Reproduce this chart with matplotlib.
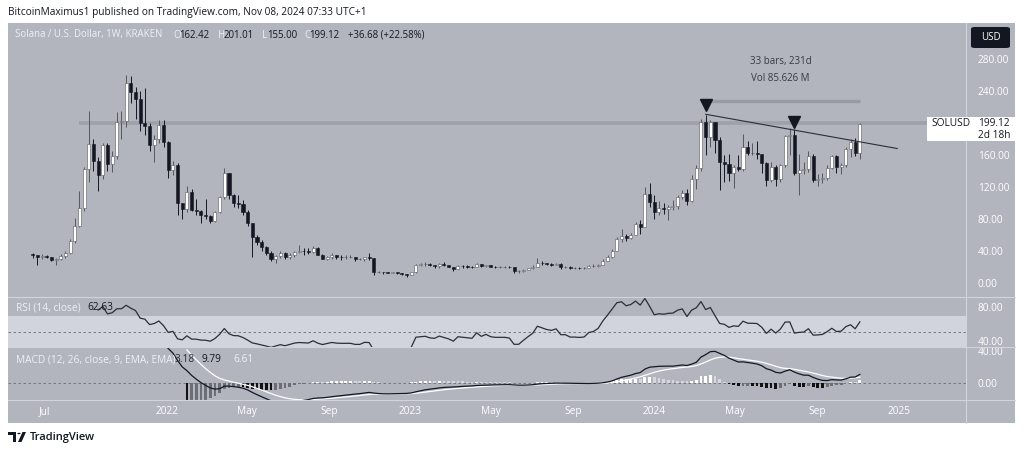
import matplotlib
matplotlib.use("Agg")
import matplotlib.pyplot as plt
import matplotlib.dates as mdates
from matplotlib.patches import Rectangle, FancyBboxPatch, Polygon, Circle
from matplotlib.lines import Line2D
from matplotlib.transforms import Bbox, TransformedBbox
import numpy as np
import pandas as pd

plt.rcParams['font.family'] = ['Open Sans', 'DejaVu Sans']

W, H = 1024, 454

# SOL/USD weekly candles (Kraken), first week starts 2021-06-14
first_open = 36.5
closes = [35.0, 33.5, 34.2, 33.0, 29.5, 30.0, 34.0, 37.5, 53.0, 72.0,
          94.0, 142.5, 174.0, 153.0, 135.5, 173.0, 149.0, 159.5, 202.0, 203.0,
          250.0, 239.5, 231.0, 201.0, 197.0, 173.0, 180.0, 198.0, 177.0, 141.6,
          148.0, 100.0, 93.0, 114.5, 91.6, 91.0, 85.0, 84.0, 78.0, 89.0,
          107.5, 137.5, 110.0, 100.0, 99.0, 89.5, 75.0, 58.0, 52.0, 45.0,
          37.5, 30.0, 34.0, 38.0, 32.5, 36.0, 39.5, 41.0, 40.0, 39.0,
          44.0, 36.0, 31.0, 33.0, 35.0, 33.0, 32.5, 32.5, 32.5, 30.0,
          30.0, 32.5, 32.0, 14.0, 14.0, 13.8, 13.5, 13.8, 12.5, 11.3,
          10.0, 13.8, 23.5, 24.0, 24.5, 22.5, 22.0, 24.0, 22.5, 21.0,
          18.5, 22.0, 21.5, 21.0, 20.5, 24.5, 21.5, 23.0, 21.0, 20.5,
          20.5, 20.5, 20.0, 15.0, 15.0, 17.0, 19.0, 21.0, 26.0, 25.0,
          24.0, 23.5, 24.5, 21.0, 21.0, 19.5, 19.5, 19.3, 19.5, 21.5,
          22.0, 23.5, 28.0, 33.0, 41.0, 56.0, 59.5, 57.0, 61.0, 74.0,
          71.0, 111.6, 102.0, 89.5, 93.7, 93.0, 96.0, 97.0, 108.0, 113.5,
          103.0, 130.0, 143.7, 202.0, 183.0, 202.0, 179.0, 152.0, 149.0, 137.5,
          145.0, 143.0, 170.0, 163.0, 163.0, 162.0, 151.0, 129.0, 146.0, 131.0,
          148.0, 184.0, 185.0, 138.0, 141.6, 143.0, 159.0, 129.0, 130.0, 132.0,
          143.7, 159.0, 146.0, 147.5, 167.5, 177.0, 162.42, 199.12]
highs = [38.5, 36.0, 37.0, 36.0, 33.5, 31.5, 37.0, 40.0, 56.0, 82.0,
         115.0, 146.0, 216.0, 180.0, 158.0, 176.0, 176.0, 165.0, 214.0, 216.0,
         260.0, 259.0, 245.0, 240.0, 244.0, 200.0, 185.0, 204.0, 204.0, 178.0,
         153.0, 150.0, 101.0, 122.0, 118.0, 106.0, 92.0, 106.0, 86.0, 91.0,
         109.0, 143.7, 138.0, 112.0, 110.0, 104.0, 92.0, 76.0, 60.0, 54.0,
         47.0, 40.0, 36.0, 41.0, 39.0, 38.0, 41.0, 48.0, 44.0, 44.0,
         47.0, 45.0, 37.0, 34.5, 38.0, 36.0, 35.0, 35.0, 35.0, 33.0,
         31.5, 33.5, 38.5, 32.0, 15.5, 14.5, 14.6, 14.5, 14.3, 12.5,
         11.5, 14.5, 24.5, 26.0, 26.5, 25.5, 23.0, 25.0, 26.5, 23.0,
         21.0, 22.5, 23.0, 22.5, 21.5, 25.5, 24.5, 23.5, 23.5, 22.0,
         21.5, 21.5, 22.0, 20.0, 16.5, 18.0, 19.5, 22.5, 32.0, 28.0,
         26.0, 25.0, 25.5, 25.0, 22.0, 22.0, 20.0, 20.5, 20.5, 22.5,
         24.5, 24.0, 30.5, 35.5, 42.5, 58.0, 68.0, 62.0, 63.0, 77.0,
         79.0, 120.0, 126.0, 110.0, 103.0, 100.0, 98.0, 104.0, 111.0, 117.0,
         118.0, 136.0, 148.0, 205.0, 210.0, 204.0, 202.0, 183.0, 160.0, 162.0,
         148.0, 160.0, 187.0, 178.0, 175.0, 178.0, 162.0, 152.0, 152.0, 148.0,
         149.0, 185.5, 193.7, 193.0, 162.0, 152.0, 165.0, 162.0, 137.0, 138.0,
         148.0, 160.5, 160.0, 150.0, 170.0, 180.0, 182.0, 201.01]
lows = [32.0, 22.5, 31.0, 31.5, 28.0, 23.0, 29.0, 31.5, 36.5, 51.0,
        70.0, 90.0, 127.0, 140.0, 116.0, 130.0, 140.0, 139.0, 155.0, 180.0,
        195.0, 226.0, 205.0, 190.0, 186.0, 165.0, 152.0, 175.0, 170.0, 132.0,
        135.0, 85.0, 81.0, 89.0, 90.0, 86.0, 75.0, 80.0, 76.0, 77.0,
        88.0, 105.0, 105.0, 95.0, 94.0, 86.0, 72.0, 33.0, 48.0, 40.0,
        36.0, 28.0, 26.0, 32.0, 31.0, 31.0, 33.0, 38.0, 36.0, 37.0,
        38.0, 35.0, 30.0, 29.5, 30.0, 31.0, 29.5, 31.0, 31.5, 28.5,
        29.0, 27.5, 29.0, 11.0, 12.5, 11.8, 13.0, 13.0, 11.8, 11.0,
        8.0, 9.8, 13.5, 22.0, 21.5, 21.5, 19.5, 19.5, 21.5, 20.0,
        15.8, 17.8, 19.5, 19.5, 19.5, 20.0, 20.5, 20.5, 20.0, 19.0,
        19.5, 19.5, 19.5, 13.5, 13.5, 14.5, 16.5, 18.5, 20.5, 23.5,
        22.5, 22.0, 22.5, 17.5, 19.5, 18.5, 17.5, 17.3, 18.5, 19.0,
        21.0, 20.5, 22.5, 27.5, 32.0, 40.0, 52.0, 52.5, 55.5, 60.0,
        62.0, 70.0, 95.0, 80.0, 86.0, 86.5, 79.0, 92.0, 93.0, 106.0,
        98.5, 102.0, 118.0, 140.0, 160.0, 171.0, 163.0, 117.0, 127.0, 127.5,
        119.0, 140.0, 140.0, 160.0, 160.0, 155.0, 138.0, 122.0, 127.0, 122.0,
        127.0, 146.0, 161.0, 136.0, 110.0, 137.0, 139.0, 127.0, 122.0, 126.0,
        129.0, 143.0, 138.0, 137.0, 146.0, 158.0, 159.0, 155.0]

opens = [first_open] + closes[:-1]
dates = pd.date_range("2021-06-14", periods=len(closes), freq="7D")

tick_dates = ["2021-07-01", "2022-01-01", "2022-05-01", "2022-09-01", "2023-01-01",
              "2023-05-01", "2023-09-01", "2024-01-01", "2024-05-01", "2024-09-01",
              "2025-01-01"]
tick_labels = ["Jul", "2022", "May", "Sep", "2023", "May", "Sep", "2024", "May", "Sep", "2025"]
price_ticks = [0, 40, 80, 120, 160, 240, 280]

# ---- indicators, computed the way TradingView does it ----
c = np.array(closes)


def tv_ema(vals, n):
    out = np.full(len(vals), np.nan)
    start = int(np.argmax(~np.isnan(vals)))
    out[start + n - 1] = np.mean(vals[start:start + n])
    a = 2.0 / (n + 1)
    for k in range(start + n, len(vals)):
        out[k] = a * vals[k] + (1 - a) * out[k - 1]
    return out


def tv_rsi(vals, n=14):
    d = np.diff(vals)
    g = np.clip(d, 0, None)
    l = np.clip(-d, 0, None)
    out = np.full(len(vals), np.nan)
    ag, al = g[:n].mean(), l[:n].mean()
    out[n] = 100 - 100 / (1 + ag / al)
    for k in range(n + 1, len(vals)):
        ag = (ag * (n - 1) + g[k - 1]) / n
        al = (al * (n - 1) + l[k - 1]) / n
        out[k] = 100 - 100 / (1 + ag / al)
    return out


rsi = tv_rsi(c)
macd = tv_ema(c, 12) - tv_ema(c, 26)
signal = tv_ema(macd, 9)
hist = macd - signal

# ---- figure ----
BG = '#b2b5be'
SEP = '#d1d4dc'
DARK = '#131722'

fig = plt.figure(figsize=(W / 100, H / 100), dpi=100)
fig.patch.set_facecolor('white')


def fx(x):
    return x / W


def fy(y):
    return 1 - y / H


fig.add_artist(Rectangle((fx(8), fy(423)), fx(1015) - fx(8), fy(23) - fy(423),
                         transform=fig.transFigure, facecolor=BG, edgecolor='none', zorder=-10))


def pane(top, bottom, share=None):
    a = fig.add_axes([fx(8), fy(bottom), fx(966) - fx(8), fy(top) - fy(bottom)], sharex=share)
    a.set_facecolor('none')
    for s in a.spines.values():
        s.set_visible(False)
    return a


ax = pane(23, 297)
ax_rsi = pane(297, 347, ax)
ax_macd = pane(347, 400, ax)

xnum = mdates.date2num(dates)
bw = 4.6
up = np.array(closes) >= np.array(opens)
o, h, l = np.array(opens), np.array(highs), np.array(lows)
ax.vlines(xnum[up], l[up], h[up], color='#55585f', lw=0.7, zorder=2)
ax.vlines(xnum[~up], l[~up], h[~up], color=DARK, lw=0.7, zorder=2)
ax.bar(xnum[up], (c - o)[up], bottom=o[up], width=bw, color='white',
       edgecolor='#55585f', lw=0.4, zorder=3)
ax.bar(xnum[~up], (o - c)[~up], bottom=c[~up], width=bw, color=DARK,
       edgecolor=DARK, lw=0.4, zorder=3)

x_left = mdates.date2num(pd.Timestamp("2021-05-08"))
x_right = mdates.date2num(pd.Timestamp("2025-04-12"))
ax.set_xlim(x_left, x_right)
ax.set_ylim(-17.1, 325.4)

# drawings
ax.plot([mdates.date2num(pd.Timestamp("2021-08-23")), x_right], [200, 200],
        color='#9ea1aa', lw=2.6, solid_capstyle='butt', zorder=1)
ax.plot([xnum[144], xnum[177]], [227.5, 227.5], color='#989ba4', lw=2.4,
        solid_capstyle='butt', zorder=1)
ax.plot([xnum[144], mdates.date2num(pd.Timestamp("2024-12-30"))], [211.3, 168.5],
        color='#2a2e39', lw=0.8, zorder=4)
ax.plot([xnum[144], xnum[163]], [223.5, 201.6], ls='none', marker='v', ms=8,
        color=DARK, zorder=5)
ax.text(xnum[160], 277, "33 bars, 231d", ha='center', va='center', fontsize=7, color='#363a45')
ax.text(xnum[160], 255.5, "Vol 85.626 M", ha='center', va='center', fontsize=7, color='#363a45')

ax.yaxis.tick_right()
ax.set_yticks(price_ticks)
ax.set_yticklabels([f"{v:.2f}" for v in price_ticks])
ax.tick_params(axis='y', length=0, pad=8.5, labelcolor='white', labelsize=7.3)
ax.tick_params(axis='x', length=0, labelbottom=False)

# RSI
ax_rsi.axhspan(30, 70, color='#d1d4dc', lw=0, zorder=0)
ax_rsi.axhline(50, color='#6a6d78', lw=0.6, dashes=(3, 3), zorder=1)
ax_rsi.plot(xnum, rsi, color='#2a2e39', lw=0.9, zorder=3)
ax_rsi.set_ylim(32.9, 91.8)
ax_rsi.yaxis.tick_right()
ax_rsi.set_yticks([40, 80])
ax_rsi.set_yticklabels(["40.00", "80.00"])
ax_rsi.tick_params(axis='y', length=0, pad=8.5, labelcolor='white', labelsize=7.3)
ax_rsi.tick_params(axis='x', length=0, labelbottom=False)

# MACD
cols = []
for k in range(len(hist)):
    prev = hist[k - 1] if k > 0 else np.nan
    if np.isnan(hist[k]):
        cols.append('none')
    elif hist[k] >= 0:
        cols.append('white' if not np.isnan(prev) and hist[k] > prev else '#d6d8de')
    else:
        cols.append('#111111' if np.isnan(prev) or hist[k] < prev else '#6b6e75')
ok = ~np.isnan(hist)
ax_macd.axhline(0, color='#6a6d78', lw=0.6, dashes=(3, 3), zorder=1)
ax_macd.bar(xnum[ok], hist[ok], width=4.2, color=np.array(cols)[ok], lw=0, zorder=2)
ax_macd.plot(xnum, signal, color='white', lw=0.9, zorder=3)
ax_macd.plot(xnum, macd, color=DARK, lw=0.9, zorder=4)
ax_macd.set_ylim(-19.4, 41.1)
ax_macd.yaxis.tick_right()
ax_macd.set_yticks([0])
ax_macd.set_yticklabels(["0.00"])
ax_macd.tick_params(axis='y', length=0, pad=8.5, labelcolor='white', labelsize=7.3)
ax_macd.set_xticks(mdates.date2num(pd.to_datetime(tick_dates)))
ax_macd.set_xticklabels(tick_labels)
ax_macd.tick_params(axis='x', length=0, pad=4.5, labelcolor='white', labelsize=7.3)

# separators
for yy in (297, 347, 400):
    fig.add_artist(Line2D([fx(8), fx(1015)], [fy(yy), fy(yy)], color=SEP, lw=0.8,
                          transform=fig.transFigure))
fig.add_artist(Line2D([fx(966), fx(966)], [fy(23), fy(423)], color=SEP, lw=0.8,
                      transform=fig.transFigure))


def ftext(x, y, s, **kw):
    kw.setdefault('fontsize', 7.3)
    return fig.text(fx(x), fy(y), s, va='center', **kw)


# MACD scale label for 40, squeezed under the RSI pane edge
t40 = ftext(978, 352.5, "40.00", color='white')
t40.set_clip_box(TransformedBbox(Bbox([[fx(966), fy(400)], [fx(1015), fy(348)]]), fig.transFigure))
t40.set_clip_on(True)

ftext(8, 12, "BitcoinMaximus1 published on TradingView.com, Nov 08, 2024 07:33 UTC+1", color=DARK)

LIGHT = '#eef0f4'
ftext(15, 35, "Solana / U.S. Dollar, 1W, KRAKEN", color=LIGHT, fontsize=6.9)
for x0, s, col in [(173, "O", LIGHT), (179, "162.42", DARK), (218, "H", LIGHT), (224, "201.01", DARK),
                   (262, "L", LIGHT), (267, "155.00", DARK), (304, "C", LIGHT), (309, "199.12", DARK),
                   (348, "+36.68 (+22.58%)", DARK)]:
    ftext(x0, 35, s, color=col, fontsize=6.9)

ftext(16, 308, "RSI (14, close)", color=LIGHT)
ftext(87, 308, "62.63", color=DARK)
ftext(16, 360, "MACD (12, 26, close, 9, EMA, EMA)", color=LIGHT)
ftext(175, 360, "3.18", color='#2a2e39')
ftext(201, 360, "9.79", color=DARK)
ftext(233, 360, "6.61", color=LIGHT)

# USD box
fig.add_artist(FancyBboxPatch((fx(971), fy(48)), fx(1010) - fx(971), fy(27) - fy(48),
                              boxstyle="round,pad=0,rounding_size=0.004", transform=fig.transFigure,
                              facecolor=DARK, edgecolor='none'))
ftext(990.5, 37.5, "USD", color='white', ha='center', fontsize=7)

# last price tag
fig.add_artist(Rectangle((fx(927), fy(141)), fx(1015) - fx(927), fy(117) - fy(141),
                         transform=fig.transFigure, facecolor='white', edgecolor='none', zorder=5))
fig.text(fx(931), fy(124), "SOLUSD", va='center', fontsize=7.3, color=DARK, zorder=6)
fig.text(fx(978), fy(124), "199.12", va='center', fontsize=7.3, color=DARK, zorder=6)
fig.text(fx(978), fy(135), "2d 18h", va='center', fontsize=7.3, color=DARK, zorder=6)

# footer logo
fig.add_artist(Polygon([[fx(8), fy(432)], [fx(16), fy(432)], [fx(16), fy(442)], [fx(13), fy(442)],
                        [fx(13), fy(435)], [fx(8), fy(435)]], closed=True, transform=fig.transFigure,
                       facecolor=DARK, edgecolor='none'))
fig.add_artist(Circle((fx(19), fy(433.5)), 1.6 / W, transform=fig.transFigure,
                      facecolor=DARK, edgecolor='none'))
fig.add_artist(Polygon([[fx(18), fy(442)], [fx(21.5), fy(442)], [fx(26), fy(432)], [fx(22.5), fy(432)]],
                       closed=True, transform=fig.transFigure, facecolor=DARK, edgecolor='none'))
ftext(30, 437.5, "TradingView", color=DARK, fontsize=8, fontweight='semibold')

fig.savefig("out.png", dpi=100, facecolor='white')
